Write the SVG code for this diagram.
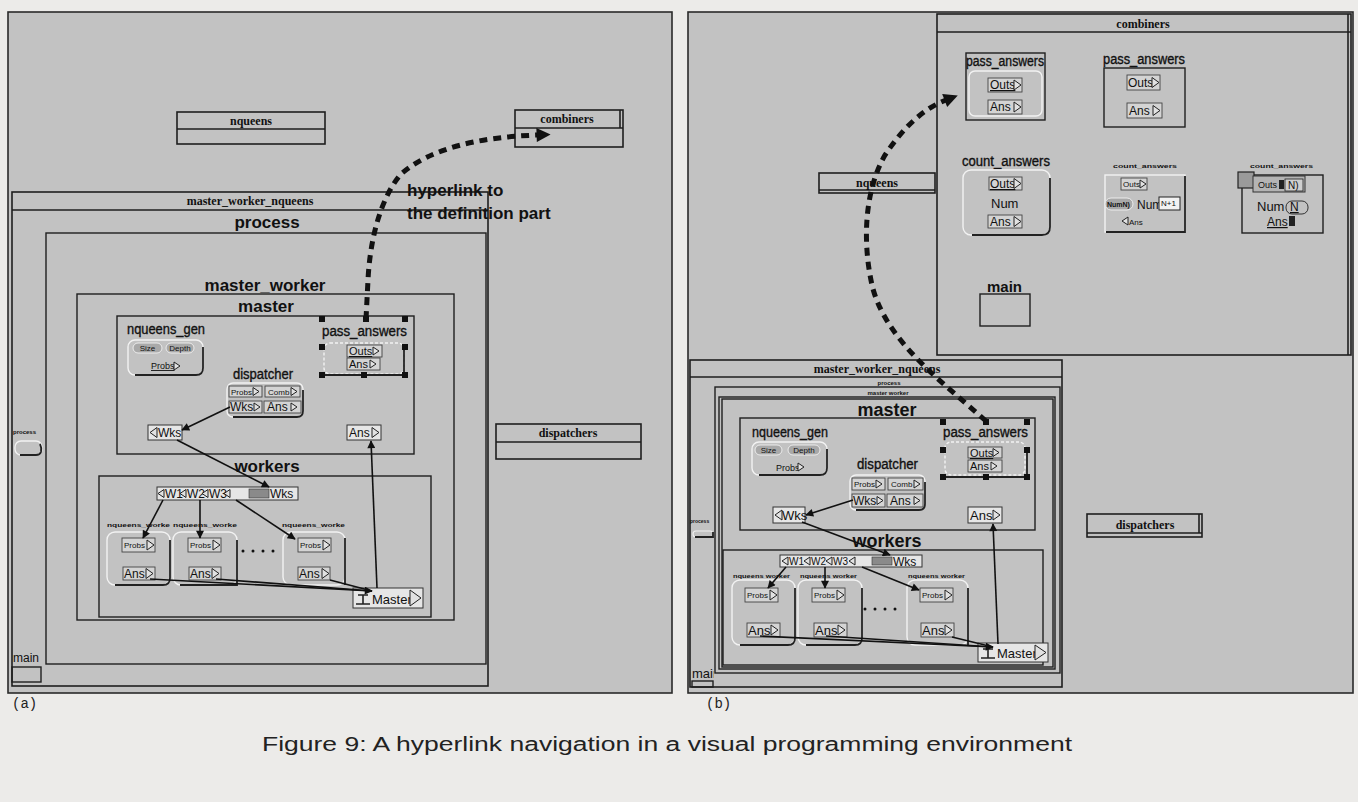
<svg xmlns="http://www.w3.org/2000/svg" width="1358" height="802" viewBox="0 0 1358 802">
<defs>
<style>
.page{fill:#ecebe9}
.panel{fill:#c2c2c2;stroke:#2a2a2a;stroke-width:1.6}
.win{fill:none;stroke:#1e1e1e;stroke-width:1.6}
.frm{fill:none;stroke:#1e1e1e;stroke-width:1.4}
.t{font-family:"Liberation Sans",Arial,sans-serif;fill:#111}
.s{font-family:"Liberation Serif","Times New Roman",serif;font-weight:bold;fill:#111;font-size:12px;text-anchor:middle}
.big{font-size:17px;font-weight:bold;text-anchor:middle}
.lab{font-size:14px;stroke:#111;stroke-width:0.35}
.pt{font-size:12px}
.ps{font-size:8px}
.tiny{font-size:6px;font-weight:bold}
.port{fill:#d4d4d4;stroke:#444;stroke-width:0.9}
.wport{fill:#e6e6e6;stroke:#333;stroke-width:1}
.rbox{fill:none;stroke:#f2f2f2;stroke-width:1.4}
.rsh{fill:none;stroke:#222;stroke-width:1.8}
.pill{fill:#a9a9a9;stroke:#ececec;stroke-width:1}
.hd{fill:#111}
.tri{fill:#e2e2e2;stroke:#222;stroke-width:1}
.c{fill:none;stroke:#111;stroke-width:1.6}
.hl{fill:none;stroke:#111;stroke-width:5;stroke-dasharray:8 6}
.cap{font-family:"Liberation Sans",Arial,sans-serif;font-size:20px;fill:#222}
.mono{font-family:"Liberation Mono","Courier New",monospace;font-size:14px;fill:#222}
</style>
<marker id="ah" viewBox="0 0 10 10" refX="9" refY="5" markerWidth="10" markerHeight="8" markerUnits="userSpaceOnUse" orient="auto"><path d="M0,0 L10,5 L0,10 Z" fill="#111"/></marker>
<marker id="hh" viewBox="0 0 10 10" refX="1" refY="5" markerWidth="17" markerHeight="14" markerUnits="userSpaceOnUse" orient="auto"><path d="M0,0 L10,5 L0,10 Z" fill="#111"/></marker>
<path id="tr" d="M0,0 L7,5 L0,10 Z" class="tri"/>
<path id="tl" d="M7,0 L0,5 L7,10 Z" class="tri"/>
<path id="trs" d="M0,0 L6,4 L0,8 Z" class="tri"/>
<path id="tls" d="M6,0 L0,4 L6,8 Z" class="tri"/>
<rect id="hdl" x="-3" y="-3" width="6" height="6" class="hd"/>
<clipPath id="clipmain"><rect x="688" y="640" width="26" height="50"/></clipPath>
</defs>

<rect class="page" width="1358" height="802"/>

<!-- ===================== PANEL (a) ===================== -->
<g id="panel-a"><rect class="panel" x="8" y="12" width="664" height="681"/></g>

<g id="a-nqueens">
<rect class="win" x="177" y="112" width="148" height="32"/>
<line class="win" x1="177" y1="129" x2="325" y2="129"/>
<text class="s" x="251" y="125">nqueens</text>
</g>

<g id="a-combiners">
<rect class="win" x="515" y="110" width="108" height="37"/>
<line class="win" x1="515" y1="128" x2="623" y2="128"/>
<line class="win" x1="620" y1="110" x2="620" y2="128"/>
<text class="s" x="567" y="123">combiners</text>
</g>

<g id="a-dispatchers">
<rect class="win" x="496" y="424" width="145" height="35"/>
<line class="win" x1="496" y1="442" x2="641" y2="442"/>
<text class="s" x="568" y="437">dispatchers</text>
</g>

<g id="a-master-worker-nqueens">
<rect class="win" x="12" y="192" width="476" height="494"/>
<line class="win" x1="12" y1="210" x2="488" y2="210"/>
<text class="s" x="250" y="205">master_worker_nqueens</text>
</g>
<g id="a-process">
<text class="t big" x="267" y="228">process</text>
<rect class="frm" x="46" y="233" width="440" height="431"/>
</g>
<g id="a-master-worker">
<text class="t big" x="265" y="291">master_worker</text>
<rect class="frm" x="77" y="294" width="377" height="326"/>
</g>
<g id="a-master">
<text class="t big" x="266" y="312">master</text>
<rect class="frm" x="117" y="316" width="297" height="138"/>
</g>
<g id="a-workers">
<text class="t big" x="267" y="472">workers</text>
<rect class="frm" x="99" y="476" width="332" height="141"/>
</g>

<g id="a-process-icon">
<text class="t tiny" x="13" y="434">process</text>
<rect class="rbox" x="15" y="441" width="27" height="14" rx="6"/>
<path class="rsh" d="M40,444 Q42,448 41,452 Q40,455 36,455 H20"/>
</g>
<g id="a-main">
<text class="t" x="13" y="662" font-size="12">main</text>
<rect class="frm" x="12" y="667" width="29" height="15"/>
</g>

<g id="a-nqueens-gen">
<text class="t lab" x="127" y="334" textLength="78" lengthAdjust="spacingAndGlyphs">nqueens_gen</text>
<rect class="rbox" x="128" y="340" width="75" height="35" rx="7"/>
<path class="rsh" d="M203,347 V368 Q203,375 196,375 H135"/>
<rect class="pill" x="133" y="343" width="29" height="10" rx="5"/>
<text class="t ps" x="147.5" y="351" text-anchor="middle">Size</text>
<rect class="pill" x="166" y="343" width="28" height="10" rx="5"/>
<text class="t ps" x="180" y="351" text-anchor="middle">Depth</text>
<text class="t" x="151" y="369" font-size="9" text-decoration="underline">Probs</text>
<use href="#trs" x="174" y="362"/>
</g>

<g id="a-dispatcher">
<text class="t lab" x="233" y="379" textLength="60" lengthAdjust="spacingAndGlyphs">dispatcher</text>
<rect class="rbox" x="227" y="383" width="76" height="34" rx="6"/>
<path class="rsh" d="M303,390 V411 Q303,417 297,417 H233"/>
<rect class="port" x="229" y="386" width="33" height="11"/>
<text class="t ps" x="231" y="395">Probs</text><use href="#trs" x="253" y="387.5"/>
<rect class="port" x="265" y="386" width="35" height="11"/>
<text class="t ps" x="268" y="395">Comb</text><use href="#trs" x="291" y="387.5"/>
<rect class="port" x="229" y="401" width="33" height="12"/>
<text class="t pt" x="230" y="411">Wks</text><use href="#trs" x="254" y="403"/>
<rect class="port" x="264" y="401" width="37" height="12"/>
<text class="t pt" x="267" y="411">Ans</text><use href="#trs" x="291" y="403"/>
</g>

<g id="a-pass-answers">
<text class="t lab" x="322" y="336" textLength="85" lengthAdjust="spacingAndGlyphs">pass_answers</text>
<rect class="rbox" x="324" y="343" width="80" height="31" rx="6" stroke-dasharray="3 2"/>
<path class="rsh" d="M404,347 V375 H322"/>
<rect class="port" x="347" y="345" width="35" height="12"/>
<text class="t" x="349" y="355" font-size="11" text-decoration="underline">Outs</text><use href="#trs" x="373" y="347"/>
<rect class="port" x="347" y="358" width="33" height="12"/>
<text class="t" x="349" y="368" font-size="11">Ans</text><use href="#trs" x="370" y="360"/>
<use href="#hdl" x="322" y="319"/><use href="#hdl" x="366" y="319"/><use href="#hdl" x="405" y="319"/>
<use href="#hdl" x="322" y="347"/><use href="#hdl" x="405" y="347"/>
<use href="#hdl" x="322" y="375"/><use href="#hdl" x="364" y="375"/><use href="#hdl" x="405" y="375"/>
</g>

<g id="a-port-wks">
<rect class="wport" x="148" y="425" width="34" height="15"/>
<use href="#tl" x="150" y="427.5"/>
<text class="t pt" x="158" y="437">Wks</text>
</g>
<g id="a-port-ans">
<rect class="wport" x="347" y="425" width="34" height="15"/>
<text class="t pt" x="349" y="437">Ans</text>
<use href="#tr" x="372" y="427.5"/>
</g>

<g id="a-worker-ports">
<rect class="wport" x="157" y="487" width="141" height="13"/>
<use href="#tls" x="158" y="489.5"/><text class="t pt" x="165" y="498">W1</text>
<use href="#tls" x="180" y="489.5"/><text class="t pt" x="187" y="498">W2</text>
<use href="#tls" x="202" y="489.5"/><text class="t pt" x="209" y="498">W3</text>
<use href="#tls" x="224" y="489.5"/>
<rect x="249" y="489" width="20" height="9" fill="#8a8a8a" stroke="#333" stroke-width="0.6"/>
<text class="t pt" x="270" y="498">Wks</text>
</g>

<g id="a-worker-1">
<text class="t tiny" x="107" y="527" textLength="63" lengthAdjust="spacingAndGlyphs">nqueens_worke</text>
<rect class="rbox" x="107" y="532" width="63" height="53" rx="8"/>
<path class="rsh" d="M170,540 V578 Q170,585 163,585 H115"/>
<rect class="port" x="122" y="538" width="33" height="14"/>
<text class="t ps" x="124" y="548">Probs</text><use href="#tr" x="147" y="540"/>
<rect class="port" x="123" y="567" width="32" height="13"/>
<text class="t pt" x="124" y="578">Ans</text><use href="#tr" x="146" y="568.5"/>
</g>
<g id="a-worker-2">
<text class="t tiny" x="173" y="527" textLength="64" lengthAdjust="spacingAndGlyphs">nqueens_worke</text>
<rect class="rbox" x="173" y="532" width="64" height="53" rx="8"/>
<path class="rsh" d="M237,540 V585 H180"/>
<rect class="port" x="188" y="538" width="33" height="14"/>
<text class="t ps" x="190" y="548">Probs</text><use href="#tr" x="213" y="540"/>
<rect class="port" x="189" y="567" width="32" height="13"/>
<text class="t pt" x="190" y="578">Ans</text><use href="#tr" x="212" y="568.5"/>
</g>
<g id="a-dots">
<circle cx="243" cy="551" r="1.5" class="hd"/><circle cx="253" cy="551" r="1.5" class="hd"/>
<circle cx="263" cy="551" r="1.5" class="hd"/><circle cx="273" cy="551" r="1.5" class="hd"/>
</g>
<g id="a-worker-3">
<text class="t tiny" x="282" y="527" textLength="63" lengthAdjust="spacingAndGlyphs">nqueens_worke</text>
<rect class="rbox" x="283" y="532" width="62" height="53" rx="8"/>
<path class="rsh" d="M345,538 V585"/>
<rect class="port" x="298" y="538" width="33" height="14"/>
<text class="t ps" x="300" y="548">Probs</text><use href="#tr" x="323" y="540"/>
<rect class="port" x="298" y="567" width="32" height="13"/>
<text class="t pt" x="299" y="578">Ans</text><use href="#tr" x="322" y="568.5"/>
</g>
<g id="a-port-master">
<rect class="wport" x="353" y="588" width="70" height="20"/>
<path d="M356,604 H370 M363,595 V604 M358,595 H368" stroke="#222" stroke-width="1.6" fill="none"/>
<text class="t" x="372" y="604" font-size="13">Master</text>
<path d="M410,590 L421,598 L410,606 Z" class="tri"/>
</g>

<g id="a-connectors">
<line class="c" x1="230" y1="407" x2="182" y2="430" marker-end="url(#ah)"/>
<line class="c" x1="177" y1="440" x2="269" y2="487" marker-end="url(#ah)"/>
<line class="c" x1="163" y1="500" x2="143" y2="538" marker-end="url(#ah)"/>
<line class="c" x1="200" y1="500" x2="200" y2="538" marker-end="url(#ah)"/>
<line class="c" x1="236" y1="500" x2="295" y2="539" marker-end="url(#ah)"/>
<line class="c" x1="150" y1="579" x2="372" y2="591" marker-end="url(#ah)"/>
<line class="c" x1="216" y1="579" x2="372" y2="591"/>
<line class="c" x1="330" y1="580" x2="372" y2="591"/>
<line class="c" x1="377" y1="588" x2="371" y2="441" marker-end="url(#ah)"/>
<path class="hl" d="M366,319 L368,280 C370,240 380,200 400,175 C430,148 480,137 538,135" marker-end="url(#hh)"/>
</g>
<g id="a-hyperlink-label">
<text class="t" x="407" y="196" font-size="17" font-weight="bold">hyperlink to</text>
<text class="t" x="407" y="219" font-size="17" font-weight="bold">the definition part</text>
</g>

<!-- ===================== PANEL (b) ===================== -->
<g id="panel-b"><rect class="panel" x="688" y="12" width="665" height="681"/></g>

<g id="b-combiners">
<rect class="win" x="937" y="14" width="414" height="341"/>
<line class="win" x1="937" y1="32" x2="1351" y2="32"/>
<line class="win" x1="1348" y1="14" x2="1348" y2="355"/>
<text class="s" x="1143" y="28" font-size="13">combiners</text>
</g>

<g id="b-pass-answers-1">
<rect class="frm" x="966" y="53" width="79" height="67"/>
<text class="t lab" x="966" y="66" textLength="78" lengthAdjust="spacingAndGlyphs">pass_answers</text>
<rect class="rbox" x="969" y="71" width="73" height="45" rx="6"/>
<rect class="port" x="988" y="78" width="34" height="14"/>
<text class="t pt" x="990" y="89" text-decoration="underline">Outs</text><use href="#tr" x="1014" y="80"/>
<rect class="port" x="988" y="100" width="34" height="14"/>
<text class="t pt" x="990" y="111">Ans</text><use href="#tr" x="1014" y="102"/>
</g>

<g id="b-pass-answers-2">
<text class="t lab" x="1103" y="64" textLength="82" lengthAdjust="spacingAndGlyphs">pass_answers</text>
<rect class="frm" x="1104" y="68" width="81" height="59"/>
<rect class="port" x="1127" y="75" width="33" height="15"/>
<text class="t pt" x="1128" y="87">Outs</text><use href="#tr" x="1152" y="77.5"/>
<rect class="port" x="1127" y="103" width="35" height="15"/>
<text class="t pt" x="1129" y="115">Ans</text><use href="#tr" x="1153" y="105.5"/>
</g>

<g id="b-count-answers-1">
<text class="t lab" x="962" y="166" textLength="88" lengthAdjust="spacingAndGlyphs">count_answers</text>
<rect class="rbox" x="963" y="170" width="87" height="65" rx="8"/>
<path class="rsh" d="M1050,178 V227 Q1050,235 1042,235 H972"/>
<rect class="port" x="989" y="177" width="33" height="13"/>
<text class="t pt" x="990" y="188" text-decoration="underline">Outs</text><use href="#tr" x="1014" y="178.5"/>
<text class="t" x="991" y="208" font-size="13">Num</text>
<rect class="port" x="988" y="215" width="34" height="13"/>
<text class="t pt" x="990" y="226">Ans</text><use href="#tr" x="1014" y="216.5"/>
</g>

<g id="b-count-answers-2">
<text class="t tiny" x="1113" y="168" textLength="64" lengthAdjust="spacingAndGlyphs">count_answers</text>
<rect class="rbox" x="1105" y="175" width="80" height="57"/>
<path class="rsh" d="M1185,176 V232 H1106"/>
<rect class="port" x="1121" y="178" width="26" height="12"/>
<text class="t ps" x="1123" y="187">Outs</text><use href="#trs" x="1140" y="180"/>
<rect class="pill" x="1105" y="198" width="28" height="12" rx="6"/>
<text class="t" x="1107" y="207" font-size="7" font-weight="bold">NumN)</text>
<text class="t pt" x="1137" y="209">Num</text>
<rect x="1159" y="197" width="21" height="13" fill="#f2f2f2" stroke="#222" stroke-width="1"/>
<text class="t ps" x="1161" y="206">N+1</text>
<use href="#tls" x="1122" y="217"/>
<text class="t ps" x="1129" y="225">Ans</text>
</g>

<g id="b-count-answers-3">
<text class="t tiny" x="1250" y="168" textLength="63" lengthAdjust="spacingAndGlyphs">count_answers</text>
<rect class="frm" x="1242" y="175" width="81" height="58"/>
<rect x="1238" y="172" width="16" height="16" fill="#9a9a9a" stroke="#222" stroke-width="1.2"/>
<rect x="1253" y="176" width="52" height="16" fill="#b4b4b4" stroke="#333" stroke-width="1"/>
<text class="t" x="1258" y="188" font-size="9">Outs</text>
<rect x="1279" y="180" width="5" height="9" fill="#222"/>
<rect x="1285" y="179" width="18" height="12" fill="#cfcfcf" stroke="#222" stroke-width="0.8"/>
<text class="t" x="1288" y="189" font-size="10">N)</text>
<text class="t" x="1257" y="211" font-size="13">Num</text>
<rect x="1286" y="201" width="22" height="13" rx="6" fill="none" stroke="#222" stroke-width="0.9"/>
<text class="t" x="1290" y="211" font-size="12" text-decoration="underline">N</text>
<text class="t pt" x="1267" y="226" text-decoration="underline">Ans</text>
<rect x="1289" y="216" width="6" height="10" fill="#222"/>
</g>

<g id="b-main-def">
<text class="t" x="987" y="292" font-size="15" font-weight="bold">main</text>
<rect class="frm" x="980" y="294" width="50" height="32"/>
</g>

<g id="b-nqueens">
<rect class="win" x="819" y="173" width="116" height="20"/>
<line class="win" x1="819" y1="190" x2="935" y2="190"/>
<text class="s" x="877" y="187">nqueens</text>
</g>

<g id="b-dispatchers">
<rect class="win" x="1087" y="514" width="115" height="23"/>
<line class="win" x1="1087" y1="533" x2="1202" y2="533"/>
<line class="win" x1="1199" y1="514" x2="1199" y2="533"/>
<text class="s" x="1145" y="529">dispatchers</text>
</g>

<g id="b-master-worker-nqueens">
<rect class="win" x="690" y="360" width="372" height="327"/>
<line class="win" x1="690" y1="377" x2="1062" y2="377"/>
<text class="s" x="877" y="373" font-size="13">master_worker_nqueens</text>
</g>
<g id="b-process">
<text class="t tiny" x="889" y="385" text-anchor="middle">process</text>
<rect class="frm" x="715" y="387" width="345" height="286"/>
</g>
<g id="b-master-worker">
<text class="t tiny" x="888" y="395" text-anchor="middle">master worker</text>
<rect class="frm" x="719" y="397" width="336" height="272"/>
<rect class="frm" x="722" y="399" width="331" height="268" stroke-width="1"/>
</g>
<g id="b-master">
<text class="t" x="887" y="416" font-size="18" font-weight="bold" text-anchor="middle">master</text>
<rect class="frm" x="740" y="418" width="295" height="112"/>
</g>
<g id="b-workers">
<text class="t" x="887" y="547" font-size="18" font-weight="bold" text-anchor="middle">workers</text>
<rect class="frm" x="723" y="550" width="320" height="115"/>
</g>

<g id="b-process-icon">
<text class="t" x="690" y="523" font-size="5" font-weight="bold">process</text>
<rect x="693" y="531" width="20" height="6" rx="3" fill="none" stroke="#f0f0f0" stroke-width="1.2"/>
<path class="rsh" d="M713,532 V537 H695" stroke-width="1.2"/>
</g>
<g id="b-main">
<text class="t" x="692" y="678" font-size="13" clip-path="url(#clipmain)">main</text>
<rect class="frm" x="692" y="681" width="21" height="6"/>
</g>

<g id="b-nqueens-gen">
<text class="t lab" x="752" y="437" textLength="76" lengthAdjust="spacingAndGlyphs">nqueens_gen</text>
<rect class="rbox" x="752" y="442" width="75" height="33" rx="7"/>
<path class="rsh" d="M827,449 V468 Q827,475 820,475 H759"/>
<rect class="pill" x="755" y="445" width="27" height="10" rx="5"/>
<text class="t ps" x="768.5" y="453" text-anchor="middle">Size</text>
<rect class="pill" x="788" y="445" width="32" height="10" rx="5"/>
<text class="t ps" x="804" y="453" text-anchor="middle">Depth</text>
<text class="t" x="776" y="471" font-size="9">Probs</text>
<use href="#trs" x="798" y="463"/>
</g>

<g id="b-dispatcher">
<text class="t lab" x="857" y="469" textLength="61" lengthAdjust="spacingAndGlyphs">dispatcher</text>
<rect class="rbox" x="850" y="475" width="75" height="35" rx="6"/>
<path class="rsh" d="M925,482 V504 Q925,510 919,510 H856"/>
<rect class="port" x="852" y="478" width="33" height="12"/>
<text class="t ps" x="854" y="487">Probs</text><use href="#trs" x="876" y="480"/>
<rect class="port" x="888" y="478" width="35" height="12"/>
<text class="t ps" x="891" y="487">Comb</text><use href="#trs" x="914" y="480"/>
<rect class="port" x="852" y="494" width="33" height="13"/>
<text class="t pt" x="853" y="505">Wks</text><use href="#trs" x="877" y="496.5"/>
<rect class="port" x="887" y="494" width="36" height="13"/>
<text class="t pt" x="890" y="505">Ans</text><use href="#trs" x="914" y="496.5"/>
</g>

<g id="b-pass-answers">
<text class="t lab" x="943" y="437" textLength="85" lengthAdjust="spacingAndGlyphs">pass_answers</text>
<rect class="rbox" x="945" y="442" width="80" height="33" rx="6" stroke-dasharray="3 2"/>
<path class="rsh" d="M1027,450 V477 H943"/>
<rect class="port" x="968" y="447" width="34" height="11"/>
<text class="t" x="970" y="457" font-size="11" text-decoration="underline">Outs</text><use href="#trs" x="993" y="448.5"/>
<rect class="port" x="968" y="460" width="34" height="12"/>
<text class="t" x="970" y="470" font-size="11">Ans</text><use href="#trs" x="991" y="462"/>
<use href="#hdl" x="943" y="422"/><use href="#hdl" x="986" y="422"/><use href="#hdl" x="1027" y="422"/>
<use href="#hdl" x="943" y="450"/><use href="#hdl" x="1027" y="450"/>
<use href="#hdl" x="943" y="477"/><use href="#hdl" x="986" y="477"/><use href="#hdl" x="1027" y="477"/>
</g>

<g id="b-port-wks">
<rect class="wport" x="773" y="507" width="32" height="16"/>
<use href="#tl" x="775" y="510"/>
<text class="t" x="782" y="520" font-size="13">Wks</text>
</g>
<g id="b-port-ans">
<rect class="wport" x="968" y="507" width="34" height="16"/>
<text class="t" x="970" y="520" font-size="13">Ans</text>
<use href="#tr" x="993" y="510"/>
</g>

<g id="b-worker-ports">
<rect class="wport" x="780" y="555" width="142" height="12"/>
<use href="#tls" x="782" y="557"/><text class="t" x="789" y="565" font-size="10">W1</text>
<use href="#tls" x="804" y="557"/><text class="t" x="811" y="565" font-size="10">W2</text>
<use href="#tls" x="826" y="557"/><text class="t" x="833" y="565" font-size="10">W3</text>
<use href="#tls" x="849" y="557"/>
<rect x="872" y="557" width="20" height="8" fill="#8a8a8a" stroke="#333" stroke-width="0.6"/>
<text class="t pt" x="893" y="566">Wks</text>
</g>

<g id="b-worker-1">
<text class="t tiny" x="733" y="578" textLength="57" lengthAdjust="spacingAndGlyphs">nqueens worker</text>
<rect class="rbox" x="732" y="580" width="63" height="65" rx="8"/>
<path class="rsh" d="M795,588 V638 Q795,645 788,645 H740"/>
<rect class="port" x="745" y="588" width="33" height="14"/>
<text class="t ps" x="747" y="598">Probs</text><use href="#tr" x="770" y="590"/>
<rect class="port" x="747" y="623" width="33" height="14"/>
<text class="t" x="748" y="635" font-size="13">Ans</text><use href="#tr" x="771" y="625"/>
</g>
<g id="b-worker-2">
<text class="t tiny" x="800" y="578" textLength="57" lengthAdjust="spacingAndGlyphs">nqueens worker</text>
<rect class="rbox" x="798" y="580" width="64" height="65" rx="8"/>
<path class="rsh" d="M862,588 V638 Q862,645 855,645 H806"/>
<rect class="port" x="812" y="588" width="33" height="14"/>
<text class="t ps" x="814" y="598">Probs</text><use href="#tr" x="837" y="590"/>
<rect class="port" x="814" y="623" width="33" height="14"/>
<text class="t" x="815" y="635" font-size="13">Ans</text><use href="#tr" x="838" y="625"/>
</g>
<g id="b-dots">
<circle cx="865" cy="609" r="1.5" class="hd"/><circle cx="875" cy="609" r="1.5" class="hd"/>
<circle cx="885" cy="609" r="1.5" class="hd"/><circle cx="895" cy="609" r="1.5" class="hd"/>
</g>
<g id="b-worker-3">
<text class="t tiny" x="908" y="578" textLength="57" lengthAdjust="spacingAndGlyphs">nqueens worker</text>
<rect class="rbox" x="907" y="580" width="61" height="65" rx="8"/>
<path class="rsh" d="M968,588 V645"/>
<rect class="port" x="920" y="588" width="33" height="14"/>
<text class="t ps" x="922" y="598">Probs</text><use href="#tr" x="945" y="590"/>
<rect class="port" x="921" y="623" width="33" height="14"/>
<text class="t" x="922" y="635" font-size="13">Ans</text><use href="#tr" x="945" y="625"/>
</g>
<g id="b-port-master">
<rect class="wport" x="978" y="643" width="70" height="19"/>
<path d="M981,658 H995 M988,649 V658 M983,649 H993" stroke="#222" stroke-width="1.6" fill="none"/>
<text class="t" x="997" y="658" font-size="13">Master</text>
<path d="M1035,645 L1046,652.5 L1035,660 Z" class="tri"/>
</g>

<g id="b-connectors">
<line class="c" x1="853" y1="500" x2="806" y2="515" marker-end="url(#ah)"/>
<line class="c" x1="802" y1="522" x2="890" y2="555" marker-end="url(#ah)"/>
<line class="c" x1="786" y1="567" x2="768" y2="588" marker-end="url(#ah)"/>
<line class="c" x1="825" y1="567" x2="825" y2="588" marker-end="url(#ah)"/>
<line class="c" x1="862" y1="567" x2="919" y2="590" marker-end="url(#ah)"/>
<line class="c" x1="760" y1="636" x2="993" y2="647" marker-end="url(#ah)"/>
<line class="c" x1="826" y1="636" x2="993" y2="647"/>
<line class="c" x1="952" y1="637" x2="993" y2="647"/>
<line class="c" x1="998" y1="644" x2="993" y2="524" marker-end="url(#ah)"/>
<path class="hl" d="M986,421 C940,380 885,340 872,285 C862,240 865,190 885,155 C905,125 925,108 946,100" marker-end="url(#hh)"/>
</g>

<g id="captions">
<text class="mono" x="12" y="708">(a)</text>
<text class="mono" x="706" y="708">(b)</text>
<text class="cap" x="667" y="751" text-anchor="middle" textLength="810" lengthAdjust="spacingAndGlyphs">Figure 9: A hyperlink navigation in a visual programming environment</text>
</g>
</svg>
